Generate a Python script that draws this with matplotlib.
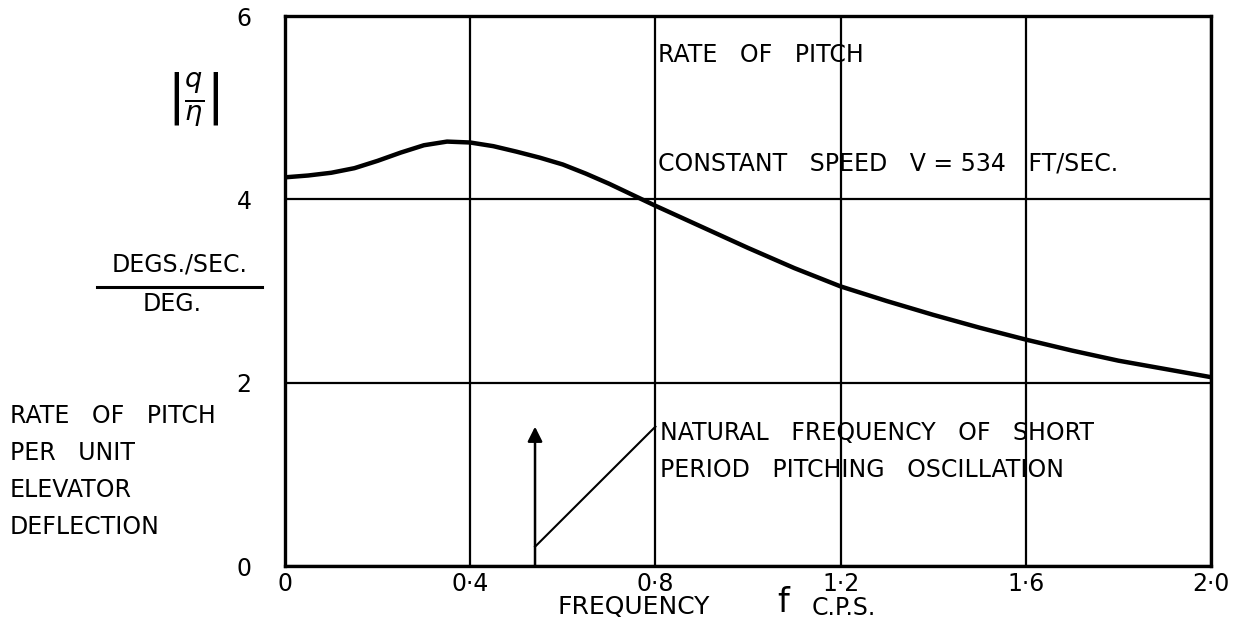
"""
Rate of pitch per unit elevator deflection against frequency.
"""

import matplotlib
matplotlib.use("Agg")
import matplotlib.pyplot as plt

# curve
freq = [0, 0.05, 0.1, 0.15, 0.2, 0.25, 0.3, 0.35, 0.4, 0.45, 0.5, 0.55, 0.6,
        0.65, 0.7, 0.75, 0.8, 0.9, 1.0, 1.1, 1.2, 1.3, 1.4, 1.5, 1.6, 1.7,
        1.8, 1.9, 2.0]
ratio = [4.24, 4.26, 4.29, 4.34, 4.42, 4.51, 4.59, 4.63, 4.62, 4.58, 4.52,
         4.455, 4.38, 4.28, 4.17, 4.05, 3.93, 3.70, 3.47, 3.25, 3.05, 2.89,
         2.74, 2.60, 2.47, 2.35, 2.24, 2.15, 2.06]

x_ticks = [0, 0.4, 0.8, 1.2, 1.6, 2.0]
x_labels = ["0", "0·4", "0·8", "1·2", "1·6", "2·0"]
y_ticks = [0, 2, 4, 6]

# natural frequency marker
nat_freq = 0.54
arrow_top = 1.52
leader_start = (0.54, 0.21)
leader_end = (0.80, 1.52)

plt.rcParams["font.family"] = ["DejaVu Sans"]

W, H = 1249, 629
fig = plt.figure(figsize=(W / 100, H / 100), dpi=100)
ax = fig.add_axes([285 / W, 1 - 566 / H, (1211 - 285) / W, (566 - 16) / H])


def fx(px):
    return px / W


def fy(py):
    return 1 - py / H


ax.set_xlim(0, 2.0)
ax.set_ylim(0, 6)
ax.set_xticks(x_ticks)
ax.set_xticklabels(x_labels)
ax.set_yticks(y_ticks)
ax.tick_params(length=0, labelsize=17)
ax.tick_params(axis="x", pad=4)
ax.tick_params(axis="y", pad=24)
for s in ax.spines.values():
    s.set_linewidth(2.4)
ax.grid(True, color="black", linewidth=1.6)

ax.plot(freq, ratio, color="black", linewidth=3.2, solid_joinstyle="round")

# arrow and leader line
ax.annotate("", xy=(nat_freq, arrow_top), xytext=(nat_freq, 0),
            arrowprops=dict(arrowstyle="-|>", color="black", lw=1.8,
                            mutation_scale=22, shrinkA=0, shrinkB=0))
ax.plot([leader_start[0], leader_end[0]], [leader_start[1], leader_end[1]],
        color="black", linewidth=1.5)

txt = dict(fontsize=17, color="black", va="center", ha="left")
ax.text(0.805, 5.57, "RATE   OF   PITCH", **txt)
ax.text(0.805, 4.39, "CONSTANT   SPEED   V = 534   FT/SEC.", **txt)
ax.text(0.81, 1.45, "NATURAL   FREQUENCY   OF   SHORT", **txt)
ax.text(0.81, 1.05, "PERIOD   PITCHING   OSCILLATION", **txt)

# left hand labels
fig.text(fx(193), fy(100), r"$\left|\frac{q}{\eta}\right|$", fontsize=28,
         ha="center", va="center")
fig.text(fx(180), fy(264), "DEGS./SEC.", fontsize=17, ha="center", va="center")
fig.add_artist(plt.Line2D([fx(97), fx(262)], [fy(287), fy(287)],
                          color="black", linewidth=2.2))
fig.text(fx(172), fy(304), "DEG.", fontsize=17, ha="center", va="center")
for i, line in enumerate(["RATE   OF   PITCH", "PER   UNIT", "ELEVATOR", "DEFLECTION"]):
    fig.text(fx(10), fy(416 + 37 * i), line, fontsize=17, ha="left", va="center")

fig.text(fx(557), fy(607), "FREQUENCY", fontsize=18, ha="left", va="center")
fig.text(fx(783), fy(603), "f", fontsize=24, ha="center", va="center")
fig.text(fx(812), fy(608), "C.P.S.", fontsize=17, ha="left", va="center")

fig.savefig("out.png", dpi=100, facecolor="white")
